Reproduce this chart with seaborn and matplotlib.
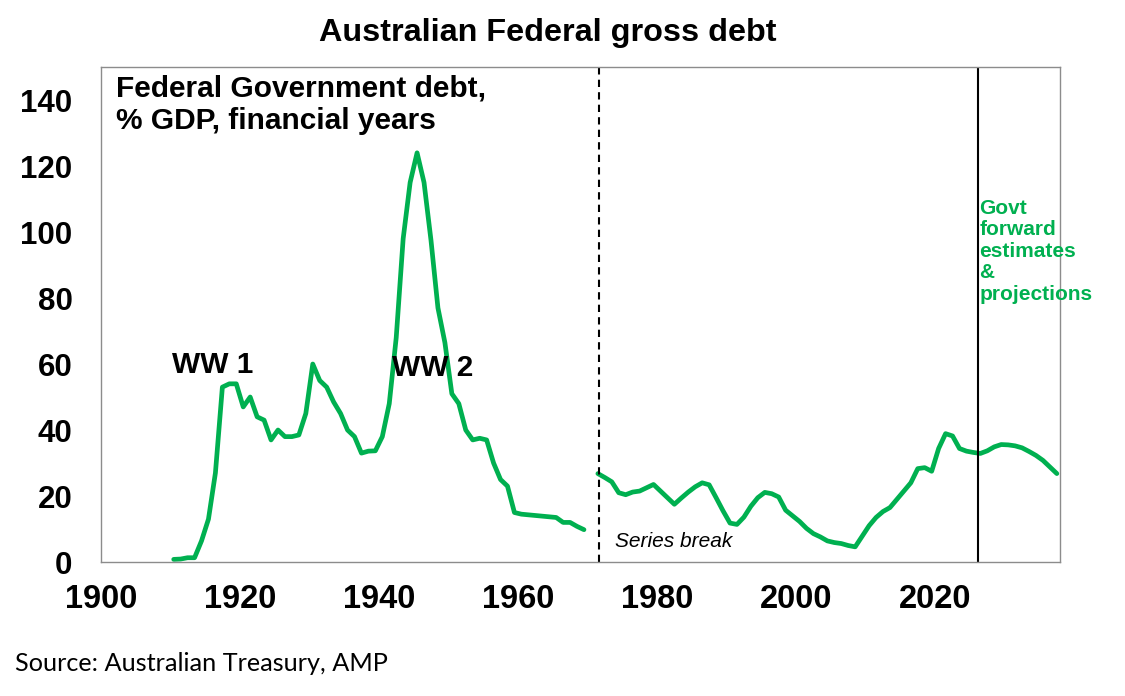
import matplotlib
matplotlib.use("Agg")
import matplotlib.pyplot as plt
import matplotlib.ticker as mticker
import seaborn as sns
import pandas as pd

# ---- data (financial years, % of GDP) ----
pre_years = list(range(1910, 1970))
pre_debt = [0.8, 0.9, 1.3, 1.3, 6.4, 13.0, 27.0, 53.0, 54.0, 54.0,
            47.0, 50.0, 44.0, 43.0, 37.0, 40.0, 38.0, 38.0, 38.5, 45.0,
            60.0, 55.0, 53.0, 48.5, 45.0, 40.0, 38.0, 33.0, 33.6, 33.7,
            38.0, 48.0, 68.0, 98.0, 115.0, 124.0, 115.0, 97.5, 77.0, 66.5,
            51.0, 48.0, 40.0, 37.0, 37.5, 37.0, 30.0, 25.0, 23.0, 15.0,
            14.5, 14.3, 14.1, 13.9, 13.7, 13.5, 12.0, 12.0, 10.8, 9.8]

post_years = list(range(1971, 2038))
post_debt = [26.8, 25.6, 24.3, 21.0, 20.4, 21.2, 21.5, 22.5, 23.5, 21.5,
             19.5, 17.5, 19.4, 21.2, 22.8, 24.0, 23.4, 19.5, 15.5, 11.8,
             11.4, 13.6, 16.9, 19.5, 21.1, 20.7, 19.7, 15.7, 14.0, 12.3,
             10.2, 8.6, 7.6, 6.4, 5.9, 5.6, 5.0, 4.6, 7.8, 11.0,
             13.5, 15.3, 16.5, 19.0, 21.5, 24.0, 28.3, 28.6, 27.5, 34.4,
             38.9, 38.2, 34.4, 33.6, 33.2, 32.9, 33.7, 34.9, 35.6, 35.5,
             35.2, 34.6, 33.5, 32.3, 30.8, 28.8, 26.8]

series_break_year = 1971.6
forecast_start_year = 2026.1

y_ticks = [0, 20, 40, 60, 80, 100, 120, 140]
x_major = list(range(1900, 2031, 10))
x_labels = [1900, 1920, 1940, 1960, 1980, 2000, 2020]

title = "Australian Federal gross debt"
subtitle = "Federal Government debt,\n% GDP, financial years"
source = "Source: Australian Treasury, AMP"

GREEN = "#00B050"
GREY = "#8C8C8C"

# financial year plotted mid-year
pre_df = pd.DataFrame({"x": [y + 0.45 for y in pre_years], "debt": pre_debt})
post_df = pd.DataFrame({"x": [y + 0.45 for y in post_years], "debt": post_debt})

sns.set_theme(style="white")
plt.rcParams["font.family"] = ["Liberation Sans", "DejaVu Sans"]
plt.rcParams["text.color"] = "black"
plt.rcParams["xtick.color"] = "black"
plt.rcParams["ytick.color"] = "black"

fig = plt.figure(figsize=(11.25, 6.96), dpi=100)
ax = fig.add_axes([0.0898, 0.1925, 0.8524, 0.7112])

sns.lineplot(data=pre_df, x="x", y="debt", ax=ax, color=GREEN, linewidth=3.4)
sns.lineplot(data=post_df, x="x", y="debt", ax=ax, color=GREEN, linewidth=3.4)

ax.axvline(series_break_year, color="black", linestyle=(0, (3.5, 2.5)), linewidth=1.5)
ax.axvline(forecast_start_year, color="black", linewidth=1.5)

ax.set_xlim(1900, 2037.9)
ax.set_ylim(0, 150)
ax.set_xlabel("")
ax.set_ylabel("")

ax.xaxis.set_major_locator(mticker.FixedLocator(x_major))
ax.xaxis.set_major_formatter(mticker.FuncFormatter(
    lambda v, p: str(int(round(v))) if int(round(v)) in x_labels else ""))
ax.yaxis.set_major_locator(mticker.FixedLocator(y_ticks))

ax.tick_params(axis="both", which="major", direction="out", length=7,
               width=1, color=GREY, labelcolor="black", pad=6)
ax.tick_params(axis="x", labelsize=23.5, pad=9)
ax.tick_params(axis="y", labelsize=22.5, pad=13.5)
for lbl in ax.get_xticklabels() + ax.get_yticklabels():
    lbl.set_fontweight("bold")

for s in ax.spines.values():
    s.set_visible(True)
    s.set_color(GREY)
    s.set_linewidth(1.0)

fig.text(0.487, 0.952, title, ha="center", va="center",
         fontsize=23.3, fontweight="bold", color="black")

ax.text(0.016, 0.985, subtitle, transform=ax.transAxes, ha="left", va="top",
        fontsize=21.5, fontweight="bold", linespacing=1.22, color="black")

ax.text(1916.0, 59.6, "WW 1", ha="center", va="center", fontsize=21.5,
        fontweight="bold", color="black")
ax.text(1947.7, 58.7, "WW 2", ha="center", va="center", fontsize=21.5,
        fontweight="bold", color="black")
ax.text(1973.9, 6.3, "Series break", ha="left", va="center", fontsize=15,
        fontstyle="italic", color="black")
ax.text(2026.3, 110, "Govt\nforward\nestimates\n&\nprojections", ha="left",
        va="top", fontsize=15, fontweight="bold", color=GREEN,
        linespacing=1.16, clip_on=False)

fig.text(0.013, 0.047, source, ha="left", va="center", fontsize=18.2,
         family=["Lato", "DejaVu Sans"], color="black")

fig.savefig("out.png", dpi=100)
